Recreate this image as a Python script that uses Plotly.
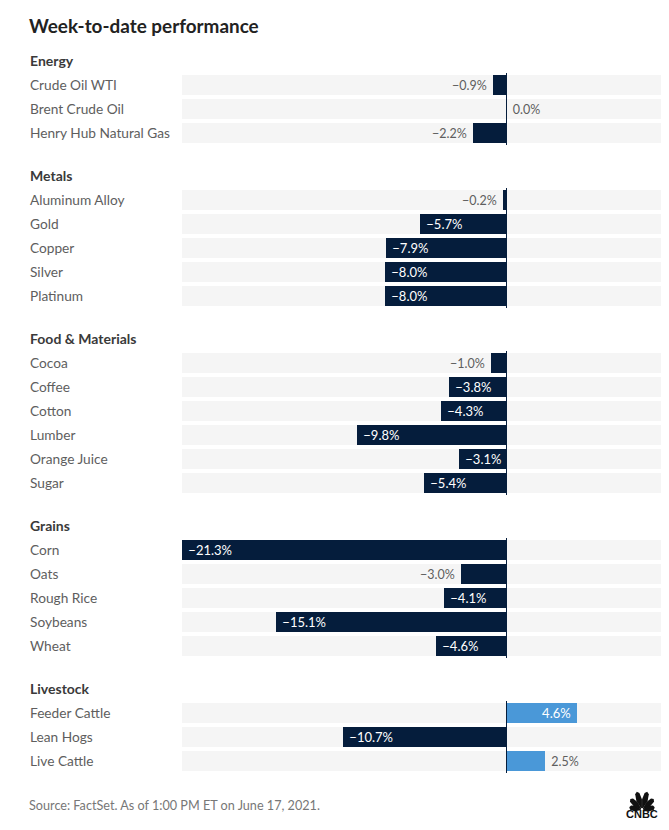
import math
import plotly.graph_objects as go
from plotly.subplots import make_subplots

WIDTH, HEIGHT = 669, 830

# ----------------------------------------
# Data
# ----------------------------------------
groups = ['Energy', 'Metals', 'Food & Materials', 'Grains', 'Livestock']

energy_names = ['Crude Oil WTI', 'Brent Crude Oil', 'Henry Hub Natural Gas']
energy_values = [-0.9, 0.0, -2.2]

metals_names = ['Aluminum Alloy', 'Gold', 'Copper', 'Silver', 'Platinum']
metals_values = [-0.2, -5.7, -7.9, -8.0, -8.0]

food_names = ['Cocoa', 'Coffee', 'Cotton', 'Lumber', 'Orange Juice', 'Sugar']
food_values = [-1.0, -3.8, -4.3, -9.8, -3.1, -5.4]

grains_names = ['Corn', 'Oats', 'Rough Rice', 'Soybeans', 'Wheat']
grains_values = [-21.3, -3.0, -4.1, -15.1, -4.6]

livestock_names = ['Feeder Cattle', 'Lean Hogs', 'Live Cattle']
livestock_values = [4.6, -10.7, 2.5]

all_names = [energy_names, metals_names, food_names, grains_names, livestock_names]
all_values = [energy_values, metals_values, food_values, grains_values, livestock_values]

# the grey track runs past the largest bar on both sides
x_min, x_max = -21.3, 10.14

# ----------------------------------------
# Styles
# ----------------------------------------
FONT = 'Lato'
NAVY = '#051d3c'
BLUE = '#4a98d8'
TRACK = '#f5f5f5'
INK = '#3a3a3a'
GREY = '#5e5e5e'
NBSP = '\u00a0'

# pixel layout of the plot block
left, right, top, bottom = 182, 661, 73, 773
gap = 43
row_px = 24
plot_h = bottom - top


def paper_x(px):
    return (px - left) / (right - left)


def paper_y(py):
    return (bottom - py) / plot_h


def make_label(v, inside):
    text = f'{v:.1f}%'.replace('-', '\u2212')
    # small padding between bar end and label
    if v < 0 and inside:
        return NBSP + text
    if v < 0:
        return text + NBSP
    if inside:
        return text + NBSP
    return NBSP + text


fig = make_subplots(
    rows=len(groups), cols=1, shared_xaxes=True,
    row_heights=[len(n) for n in all_names],
    vertical_spacing=gap / plot_h,
)

for i, (group, names, values) in enumerate(zip(groups, all_names, all_values), start=1):
    # grey track behind every row
    fig.add_trace(go.Bar(
        y=names, x=[x_max - x_min] * len(names), base=[x_min] * len(names),
        orientation='h', width=20 / row_px, marker=dict(color=TRACK, line_width=0),
        hoverinfo='skip', showlegend=False,
    ), row=i, col=1)

    inside = [abs(v) > 3.0 for v in values]
    fig.add_trace(go.Bar(
        y=names, x=values, orientation='h', width=20 / row_px,
        marker=dict(color=[BLUE if v > 0 else NAVY for v in values], line_width=0),
        text=[make_label(v, s) for v, s in zip(values, inside)],
        textposition=['inside' if s else 'outside' for s in inside],
        insidetextanchor='end',
        textangle=0,
        constraintext='none',
        cliponaxis=False,
        insidetextfont=dict(family=FONT, size=13, color='white'),
        outsidetextfont=dict(family=FONT, size=12.5, color=GREY),
        showlegend=False,
    ), row=i, col=1)

    fig.update_yaxes(
        row=i, col=1, type='category', categoryorder='array', categoryarray=names,
        range=[len(names) - 0.5, -0.5], showticklabels=False, showgrid=False,
        zeroline=False, ticks='',
    )

    # zero line on top of the bars
    yaxis_name = fig.get_subplot(i, 1).yaxis.plotly_name.replace('axis', '')
    fig.add_shape(type='line', xref=fig.get_subplot(i, 1).xaxis.plotly_name.replace('axis', ''),
                  yref=f'{yaxis_name} domain', x0=0, x1=0, y0=0, y1=1,
                  line=dict(color=NAVY, width=1))

    # group heading
    fig.add_annotation(
        xref='paper', yref=f'{yaxis_name} domain', x=paper_x(28), y=1, yshift=13,
        text=group, showarrow=False, xanchor='left', yanchor='middle',
        font=dict(family=FONT, size=14, color=INK, weight=700),
    )
    # row names, left aligned so not tick labels
    for name in names:
        fig.add_annotation(
            xref='paper', yref=yaxis_name, x=paper_x(28), y=name, yshift=1,
            text=name, showarrow=False, xanchor='left', yanchor='middle',
            font=dict(family=FONT, size=13.7, color=GREY),
        )

fig.update_xaxes(range=[x_min, x_max], showticklabels=False, showgrid=False,
                 zeroline=False, ticks='', showline=False)

# title and source
fig.add_annotation(xref='paper', yref='paper', x=paper_x(27), y=paper_y(26),
                   text='Week-to-date performance', showarrow=False,
                   xanchor='left', yanchor='middle',
                   font=dict(family=FONT, size=18.9, color='#222222', weight=700))
fig.add_annotation(xref='paper', yref='paper', x=paper_x(27), y=paper_y(805),
                   text='Source: FactSet. As of 1:00 PM ET on June 17, 2021.', showarrow=False,
                   xanchor='left', yanchor='middle',
                   font=dict(family=FONT, size=12.65, color='#777777'))

# ----------------------------------------
# CNBC logo: six feathers and the wordmark
# ----------------------------------------
cx, cy = 642, 810
feather_angles = [-78, -47, -16, 16, 47, 78]
feather_lengths = [13, 16, 19, 19, 16, 13]
for a, length in zip(feather_angles, feather_lengths):
    t = math.radians(a)
    ux, uy = math.sin(t), -math.cos(t)
    vx, vy = math.cos(t), math.sin(t)
    pts = []
    for along, side in [(0.1, -0.5), (0.55, -2.9), (0.9, -2.2), (1.0, 0), (0.9, 2.2), (0.55, 2.9), (0.1, 0.5)]:
        pts.append((cx + ux * along * length + vx * side, cy + uy * along * length + vy * side))
    path = 'M ' + ' L '.join(f'{paper_x(px):.5f} {paper_y(py):.5f}' for px, py in pts) + ' Z'
    fig.add_shape(type='path', xref='paper', yref='paper', path=path,
                  fillcolor='#111111', line_width=0)
fig.add_annotation(xref='paper', yref='paper', x=paper_x(642), y=paper_y(814),
                   text='CNBC', showarrow=False, xanchor='center', yanchor='middle',
                   font=dict(family='Liberation Sans', size=11, color='#111111', weight=700))

fig.update_layout(
    width=WIDTH, height=HEIGHT,
    margin=dict(l=left, r=WIDTH - right, t=top, b=HEIGHT - bottom, pad=0),
    barmode='overlay', bargap=0,
    paper_bgcolor='white', plot_bgcolor='white',
    showlegend=False,
)

# drop the browser's default body margin so the figure fills the window
fig.write_html('out.html', config={'displayModeBar': False},
               post_script="document.body.style.margin='0';")
